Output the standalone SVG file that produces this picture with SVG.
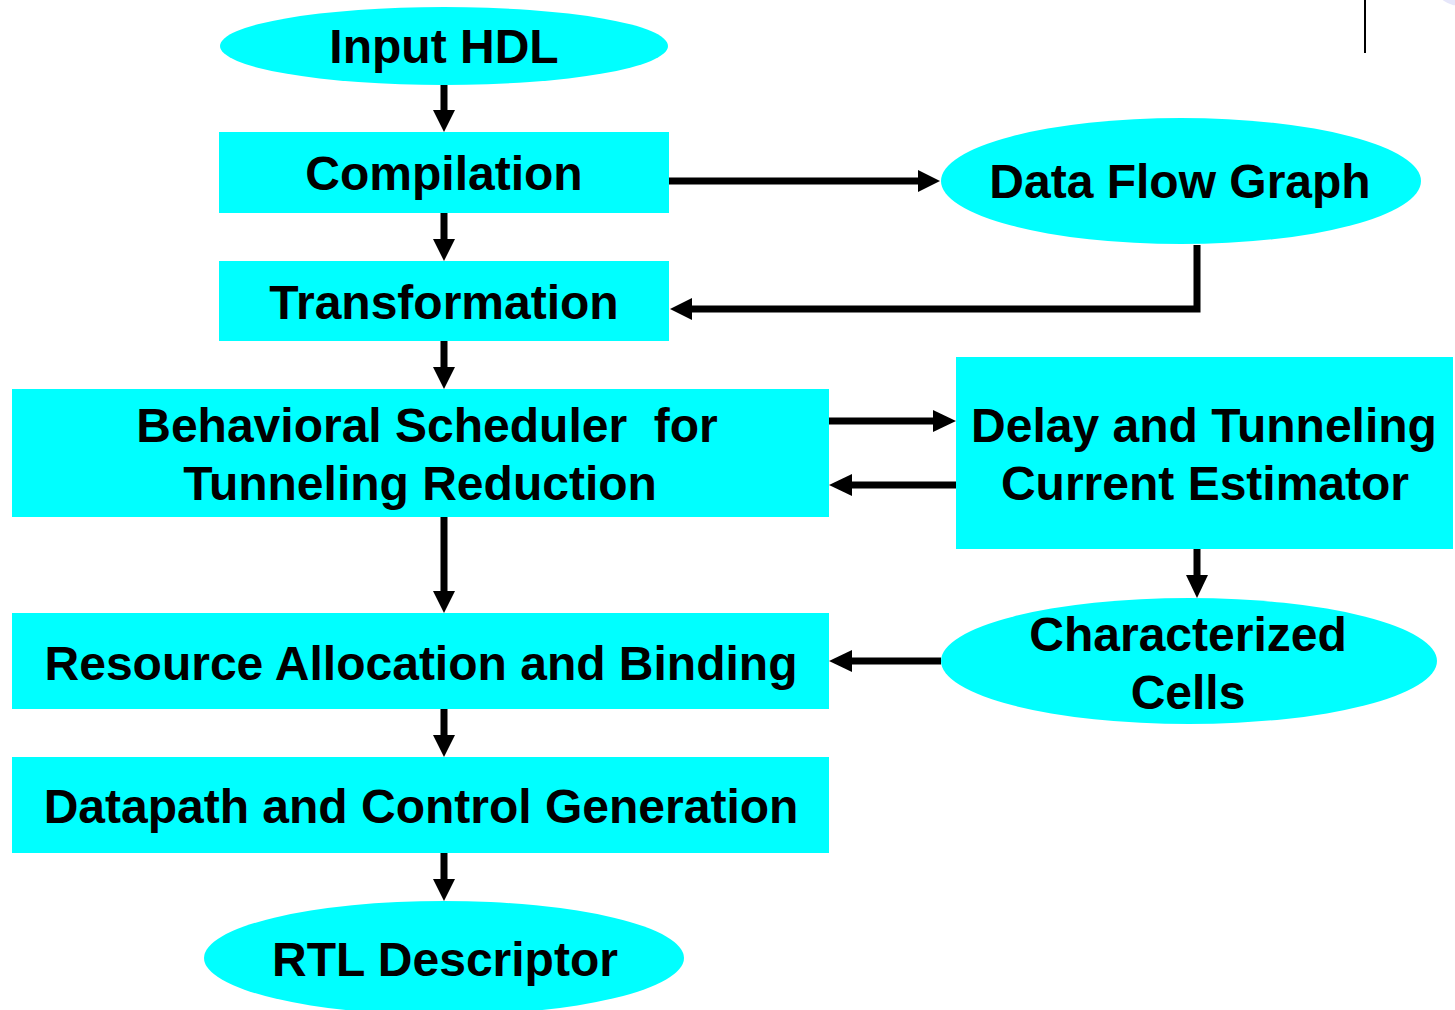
<svg xmlns="http://www.w3.org/2000/svg" width="1455" height="1010" viewBox="0 0 1455 1010">
<style>
.n{fill:#00ffff;stroke:none}
.t{font-family:"Liberation Sans",Arial,sans-serif;font-weight:bold;font-size:48px;fill:#000;text-anchor:middle}
.c{stroke:#000;stroke-width:7;fill:none}
</style>
<rect width="1455" height="1010" fill="#fff"/>
<ellipse cx="1462" cy="-12" rx="26" ry="18" fill="#e6e6fa"/>
<line x1="1365" y1="0" x2="1365" y2="53" stroke="#000" stroke-width="2"/>
<g id="input-hdl"><ellipse class="n" cx="444" cy="46" rx="224" ry="39"/><text class="t" x="444" y="63">Input HDL</text></g>
<g id="compilation"><rect class="n" x="219" y="132" width="450" height="81"/><text class="t" x="444" y="190">Compilation</text></g>
<g id="data-flow-graph"><ellipse class="n" cx="1181" cy="181" rx="240" ry="63"/><text class="t" x="1180" y="198">Data Flow Graph</text></g>
<g id="transformation"><rect class="n" x="219" y="261" width="450" height="80"/><text class="t" x="444" y="319">Transformation</text></g>
<g id="behavioral-scheduler"><rect class="n" x="12" y="389" width="817" height="128"/><text class="t" x="427" y="442" xml:space="preserve">Behavioral Scheduler  for</text><text class="t" x="420" y="500">Tunneling Reduction</text></g>
<g id="estimator"><rect class="n" x="956" y="357" width="497" height="192"/><text class="t" x="1204" y="442">Delay and Tunneling</text><text class="t" x="1205" y="500">Current Estimator</text></g>
<g id="characterized-cells"><ellipse class="n" cx="1189" cy="661" rx="248" ry="63"/><text class="t" x="1188" y="651">Characterized</text><text class="t" x="1188" y="709">Cells</text></g>
<g id="resource-allocation"><rect class="n" x="12" y="613" width="817" height="96"/><text class="t" x="421" y="680">Resource Allocation and Binding</text></g>
<g id="datapath"><rect class="n" x="12" y="757" width="817" height="96"/><text class="t" x="421" y="823">Datapath and Control Generation</text></g>
<g id="rtl-descriptor"><ellipse class="n" cx="444" cy="958" rx="240" ry="57"/><text class="t" x="445" y="976">RTL Descriptor</text></g>
<g id="connectors">
<path class="c" d="M444,85 V112" /><path d="M433,110 L455,110 L444,132 Z"/>
<path class="c" d="M669,181 H920"/><path d="M918,170 L940,181 L918,192 Z"/>
<path class="c" d="M444,213 V241"/><path d="M433,239 L455,239 L444,261 Z"/>
<path class="c" d="M1197,245 V309 H690"/><path d="M692,298 L670,309 L692,320 Z"/>
<path class="c" d="M444,341 V369"/><path d="M433,367 L455,367 L444,389 Z"/>
<path class="c" d="M829,421 H935"/><path d="M933,410 L956,421 L933,432 Z"/>
<path class="c" d="M956,485 H850"/><path d="M852,474 L829,485 L852,496 Z"/>
<path class="c" d="M1197,549 V577"/><path d="M1186,575 L1208,575 L1197,598 Z"/>
<path class="c" d="M941,661 H850"/><path d="M852,650 L829,661 L852,672 Z"/>
<path class="c" d="M444,517 V593"/><path d="M433,591 L455,591 L444,613 Z"/>
<path class="c" d="M444,709 V737"/><path d="M433,735 L455,735 L444,757 Z"/>
<path class="c" d="M444,853 V881"/><path d="M433,879 L455,879 L444,901 Z"/>
</g>
</svg>
